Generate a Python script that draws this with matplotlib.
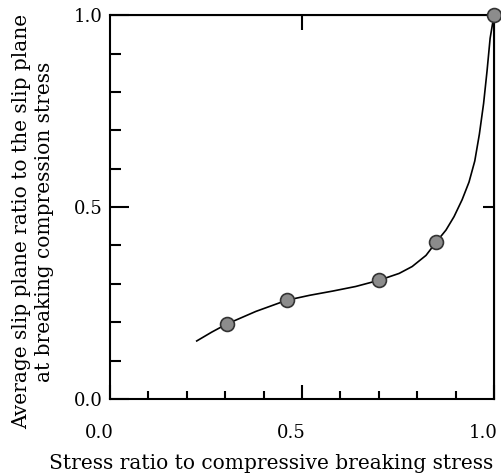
import matplotlib
matplotlib.use("Agg")
import matplotlib.pyplot as plt
from matplotlib.transforms import ScaledTranslation

# measured points
stress_ratio = [0.304, 0.46, 0.70, 0.849, 1.0]
slip_ratio = [0.195, 0.257, 0.309, 0.408, 1.0]

# fitted curve
curve_x = [0.226, 0.265, 0.304, 0.38, 0.46, 0.52, 0.58, 0.64, 0.70, 0.753,
           0.787, 0.823, 0.849, 0.875, 0.896, 0.917, 0.935, 0.950, 0.962,
           0.973, 0.982, 0.990, 1.0]
curve_y = [0.151, 0.174, 0.195, 0.228, 0.257, 0.270, 0.281, 0.293, 0.309, 0.327,
           0.345, 0.374, 0.408, 0.440, 0.475, 0.519, 0.565, 0.620, 0.690,
           0.770, 0.855, 0.940, 1.0]

tick_labels = ["0.0", "0.5", "1.0"]

plt.rcParams['font.family'] = ['DejaVu Serif']

fig = plt.figure(figsize=(5.02, 4.76), dpi=100)
ax = fig.add_axes([0.219, 0.162, 0.765, 0.806])

ax.plot(curve_x, curve_y, color='black', linewidth=1.2, clip_on=False)
ax.plot(stress_ratio, slip_ratio, 'o', markersize=10, markerfacecolor='#8c8c8c',
        markeredgecolor='#333333', markeredgewidth=1.2, clip_on=False, zorder=3)

ax.set_xlim(0, 1)
ax.set_ylim(0, 1)
for s in ax.spines.values():
    s.set_linewidth(1.5)

ax.set_xticks([0, 0.5, 1.0])
ax.set_xticklabels(tick_labels)
ax.set_xticks([0.1, 0.2, 0.3, 0.4, 0.6, 0.7, 0.8, 0.9], minor=True)
ax.set_yticks([0, 0.5, 1.0])
ax.set_yticklabels(tick_labels)
ax.set_yticks([0.1, 0.2, 0.3, 0.4, 0.6, 0.7, 0.8, 0.9], minor=True)

ax.tick_params(axis='x', which='major', direction='in', length=10, width=1.5,
               pad=18, labelsize=13)
ax.tick_params(axis='x', which='minor', direction='in', length=6, width=1.5)
ax.tick_params(axis='y', which='major', direction='in', length=14, width=1.5,
               pad=5, labelsize=13)
ax.tick_params(axis='y', which='minor', direction='in', length=8, width=1.5)

# x tick labels sit a bit left of their ticks in the original
shift = ScaledTranslation(-0.11, 0, fig.dpi_scale_trans)
for lab in ax.get_xticklabels():
    lab.set_transform(lab.get_transform() + shift)

top = ax.secondary_xaxis('top')
top.set_xticks([0.5])
top.set_xticklabels([])
top.tick_params(direction='in', length=11, width=1.5)
right = ax.secondary_yaxis('right')
right.set_yticks([0.5])
right.set_yticklabels([])
right.tick_params(direction='in', length=8, width=1.5)

ax.set_xlabel('Stress ratio to compressive breaking stress', fontsize=14.5)
ax.xaxis.set_label_coords(0.42, -0.169)
ax.xaxis.label.set_va('center')

ax.set_ylabel('Average slip plane ratio to the slip plane\nat breaking compression stress',
              fontsize=14.5, linespacing=1.25)
ax.yaxis.set_label_coords(-0.2, 0.462)
ax.yaxis.label.set_va('center')

plt.savefig('out.png', dpi=100)
